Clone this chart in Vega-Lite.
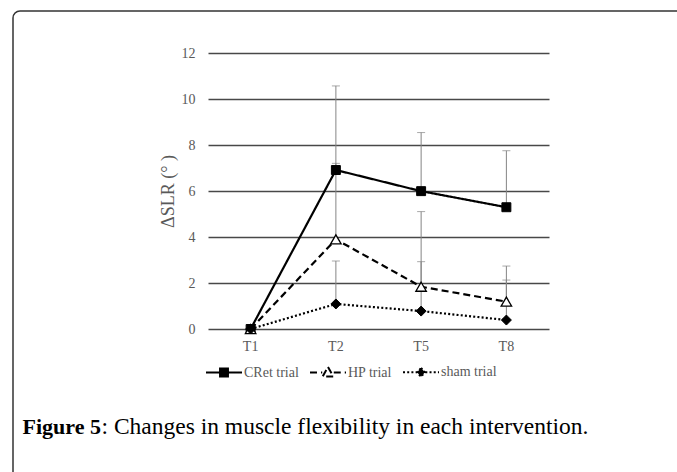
{
  "$schema": "https://vega.github.io/schema/vega-lite/v6.json",
  "width": 674,
  "height": 471,
  "autosize": "none",
  "padding": {"left": 13, "top": 11, "right": -10, "bottom": -10},
  "background": "white",
  "config": {
    "view": {"stroke": "#333333", "strokeWidth": 1.5, "cornerRadius": 7},
    "axisY": {
      "domain": false,
      "ticks": false,
      "grid": true,
      "gridColor": "#484848",
      "gridWidth": 1.4,
      "labelPadding": -182,
      "labelAlign": "right",
      "labelFont": "Liberation Serif",
      "labelFontSize": 14,
      "labelColor": "#595959",
      "titleFont": "Liberation Serif",
      "titleFontSize": 18,
      "titleFontWeight": "normal",
      "titleColor": "#595959",
      "titleAlign": "center",
      "titleBaseline": "middle",
      "titleAngle": -90,
      "titleX": 155,
      "titleY": 180
    },
    "axisX": {
      "orient": "bottom",
      "offset": -153,
      "domain": false,
      "ticks": false,
      "grid": false,
      "labelAngle": 0,
      "labelPadding": 10,
      "labelFont": "Liberation Serif",
      "labelFontSize": 14,
      "labelColor": "#595959"
    },
    "legend": {
      "orient": "none",
      "legendX": 192,
      "legendY": 342,
      "direction": "horizontal",
      "padding": 0,
      "labelFont": "Liberation Serif",
      "labelFontSize": 14,
      "labelColor": "#595959",
      "labelOffset": 1,
      "columnPadding": 7,
      "labelLimit": 300
    }
  },
  "data": {
    "values": [
      {"series": "CRet trial", "time": "T1", "mean": 0, "upper": null},
      {"series": "CRet trial", "time": "T2", "mean": 6.92, "upper": 10.58},
      {"series": "CRet trial", "time": "T5", "mean": 6.0, "upper": 8.55},
      {"series": "CRet trial", "time": "T8", "mean": 5.3, "upper": 7.76},
      {"series": "HP trial", "time": "T1", "mean": 0, "upper": null},
      {"series": "HP trial", "time": "T2", "mean": 3.9, "upper": 7.21},
      {"series": "HP trial", "time": "T5", "mean": 1.84, "upper": 5.11},
      {"series": "HP trial", "time": "T8", "mean": 1.19, "upper": 2.74},
      {"series": "sham trial", "time": "T1", "mean": 0, "upper": null},
      {"series": "sham trial", "time": "T2", "mean": 1.09, "upper": 2.96},
      {"series": "sham trial", "time": "T5", "mean": 0.78, "upper": 2.93},
      {"series": "sham trial", "time": "T8", "mean": 0.39, "upper": 2.13}
    ]
  },
  "encoding": {
    "x": {
      "field": "time", "type": "nominal",
      "scale": {"type": "band", "domain": ["T1", "T2", "T5", "T8"], "range": [195, 536], "paddingInner": 0, "paddingOuter": 0},
      "axis": null
    },
    "y": {
      "field": "mean", "type": "quantitative",
      "scale": {"domain": [0, 12], "range": [318, 42.3], "nice": false, "zero": false},
      "title": "ΔSLR (° )",
      "axis": {"values": [0, 2, 4, 6, 8, 10, 12]}
    }
  },
  "layer": [
    {
      "transform": [{"filter": "datum.upper != null"}],
      "mark": {"type": "rule", "color": "#858585", "strokeWidth": 1},
      "encoding": {
        "x": {
          "field": "time", "type": "nominal",
          "scale": {"type": "band", "domain": ["T1", "T2", "T5", "T8"], "range": [195, 536], "paddingInner": 0, "paddingOuter": 0},
          "axis": {
            "orient": "bottom",
            "labels": false,
            "title": ": Changes in muscle flexibility in each intervention.",
            "titleFont": "Liberation Serif",
            "titleFontSize": 23.5,
            "titleFontWeight": "normal",
            "titleColor": "black",
            "titleAlign": "left",
            "titleAnchor": "start",
            "titleBaseline": "alphabetic",
            "titleX": 88,
            "titleY": 104
          }
        },
        "y2": {"field": "upper"}
      }
    },
    {
      "transform": [{"filter": "datum.upper != null"}],
      "mark": {"type": "tick", "color": "#858585", "thickness": 1, "size": 8},
      "encoding": {
        "y": {
          "field": "upper", "type": "quantitative",
          "scale": {"domain": [0, 12], "range": [318, 42.3], "nice": false, "zero": false},
          "title": "ΔSLR (° )",
          "axis": {"values": [0, 2, 4, 6, 8, 10, 12]}
        }
      }
    },
    {
      "mark": {"type": "line", "color": "black", "strokeWidth": 2.2},
      "encoding": {
        "x": {
          "field": "time", "type": "nominal",
          "scale": {"type": "band", "domain": ["T1", "T2", "T5", "T8"], "range": [195, 536], "paddingInner": 0, "paddingOuter": 0},
          "axis": {
            "orient": "bottom",
            "title": "Figure 5",
            "titleFont": "Liberation Serif",
            "titleFontSize": 22,
            "titleFontWeight": "bold",
            "titleColor": "black",
            "titleAlign": "left",
            "titleAnchor": "start",
            "titleBaseline": "alphabetic",
            "titleX": 9,
            "titleY": 104
          }
        },
        "strokeDash": {
          "field": "series", "type": "nominal",
          "scale": {"domain": ["CRet trial", "HP trial", "sham trial"], "range": [[1, 0], [7, 4], [2, 2.2]]},
          "legend": {
            "title": null,
            "symbolSize": 1296,
            "symbolStrokeWidth": 2,
            "symbolStrokeColor": "black",
            "encode": {
              "symbols": {
                "update": {
                  "shape": {"signal": "datum.value === 'CRet trial' ? 'M-1,0H-0.22M0.22,0H1M-0.22,-0.22H0.22V0.22H-0.22Z' : datum.value === 'HP trial' ? 'M-1,0H-0.32M0.32,0H1M0,-0.3L0.3,0.22L-0.3,0.22Z' : 'M-1,0H-0.24M0.24,0H1M0,-0.24L0.22,0L0,0.24L-0.22,0Z'"},
                  "fill": {"signal": "datum.value === 'HP trial' ? 'white' : 'black'"},
                  "stroke": {"value": "black"},
                  "strokeWidth": {"value": 2},
                  "size": {"value": 1296}
                }
              }
            }
          }
        }
      }
    },
    {
      "transform": [{"filter": "datum.series === 'CRet trial'"}],
      "mark": {"type": "point", "shape": "square", "filled": true, "fill": "black", "stroke": "black", "strokeWidth": 1, "size": 80, "opacity": 1}
    },
    {
      "transform": [{"filter": "datum.series === 'HP trial'"}],
      "mark": {"type": "point", "shape": "triangle-up", "filled": true, "fill": "white", "stroke": "black", "strokeWidth": 1.3, "size": 110, "opacity": 1}
    },
    {
      "transform": [{"filter": "datum.series === 'sham trial'"}],
      "mark": {"type": "point", "shape": "diamond", "filled": true, "fill": "black", "stroke": "black", "strokeWidth": 1, "size": 100, "opacity": 1}
    }
  ],
  "resolve": {"axis": {"x": "independent"}}
}
